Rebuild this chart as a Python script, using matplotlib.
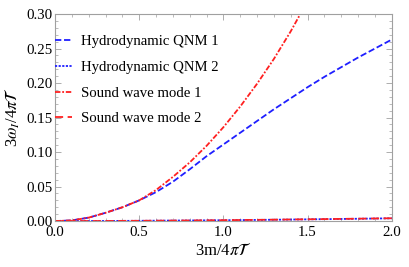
import matplotlib
matplotlib.use("Agg")
import matplotlib.pyplot as plt
from matplotlib.ticker import MultipleLocator

# values
x_hydro1 = [0.0, 0.1, 0.2, 0.3, 0.4, 0.5, 0.6, 0.7, 0.8, 0.9, 1.0,
            1.1, 1.2, 1.3, 1.4, 1.5, 1.6, 1.7, 1.8, 1.9, 2.0]
y_hydro1 = [0.0, 0.001, 0.005, 0.012, 0.020, 0.030, 0.042, 0.057, 0.075, 0.094, 0.111,
            0.128, 0.145, 0.162, 0.178, 0.194, 0.209, 0.223, 0.237, 0.250, 0.263]

x_sound1 = [0.0, 0.1, 0.2, 0.3, 0.4, 0.5, 0.6, 0.7, 0.8, 0.9, 1.0,
            1.1, 1.2, 1.3, 1.4, 1.45]
y_sound1 = [0.0, 0.001, 0.005, 0.012, 0.020, 0.030, 0.045, 0.064, 0.085, 0.109, 0.136,
            0.166, 0.199, 0.235, 0.275, 0.297]

x_low = [0.0, 0.25, 0.5, 0.75, 1.0, 1.25, 1.5, 1.75, 2.0]
y_hydro2 = [0.0, 0.0001, 0.0004, 0.0008, 0.0012, 0.0018, 0.0025, 0.0032, 0.0040]
y_sound2 = [0.0, 0.0001, 0.0004, 0.0008, 0.0013, 0.0019, 0.0026, 0.0033, 0.0041]

labels = ["Hydrodynamic QNM 1", "Hydrodynamic QNM 2",
          "Sound wave mode 1", "Sound wave mode 2"]

plt.rcParams['font.family'] = ['Liberation Serif', 'DejaVu Serif']
plt.rcParams['mathtext.fontset'] = 'stix'

fig = plt.figure(figsize=(4.09, 2.67), dpi=100)
ax = fig.add_axes([0.1345, 0.172, 0.8235, 0.7756])

ax.plot(x_hydro1, y_hydro1, color='#1f1fff', lw=1.3, dashes=(3.5, 1.5), label=labels[0])
ax.plot(x_low, y_hydro2, color='#1f1fff', lw=1.3, dashes=(1.2, 0.8), label=labels[1])
ax.plot(x_sound1, y_sound1, color='#ff2020', lw=1.3, dashes=(3, 1, 1, 1), label=labels[2])
ax.plot(x_low, y_sound2, color='#ff2020', lw=1.3, dashes=(4.5, 2.5), label=labels[3])

ax.set_xlim(0, 2.0)
ax.set_ylim(0, 0.30)
ax.xaxis.set_major_locator(MultipleLocator(0.5))
ax.xaxis.set_minor_locator(MultipleLocator(0.1))
ax.yaxis.set_major_locator(MultipleLocator(0.05))
ax.yaxis.set_minor_locator(MultipleLocator(0.01))
ax.xaxis.set_major_formatter(plt.FuncFormatter(lambda v, p: f"{v:.1f}"))
ax.yaxis.set_major_formatter(plt.FuncFormatter(lambda v, p: f"{v:.2f}"))

for s in ax.spines.values():
    s.set_color('#a0a0a0')
    s.set_linewidth(0.8)
ax.tick_params(which='both', direction='in', top=True, right=True,
               color='#a0a0a0', labelsize=10.7)
ax.tick_params(axis='y', pad=2)
ax.tick_params(axis='x', pad=3.5)
ax.tick_params(which='major', length=4, width=0.6)
ax.tick_params(which='minor', length=2, width=0.5)

ax.set_xlabel(r"3m/4$\pi\mathcal{T}$", fontsize=12, labelpad=2)
ax.set_ylabel(r"3$\omega_I$/4$\pi\mathcal{T}$", fontsize=12, labelpad=3)

ax.legend(loc='upper left', bbox_to_anchor=(0.135, 0.87), bbox_transform=fig.transFigure,
          frameon=False, fontsize=10.6, handlelength=1.15, handletextpad=0.6,
          labelspacing=0.85, borderpad=0, borderaxespad=0)

fig.savefig("out.png", dpi=100)
